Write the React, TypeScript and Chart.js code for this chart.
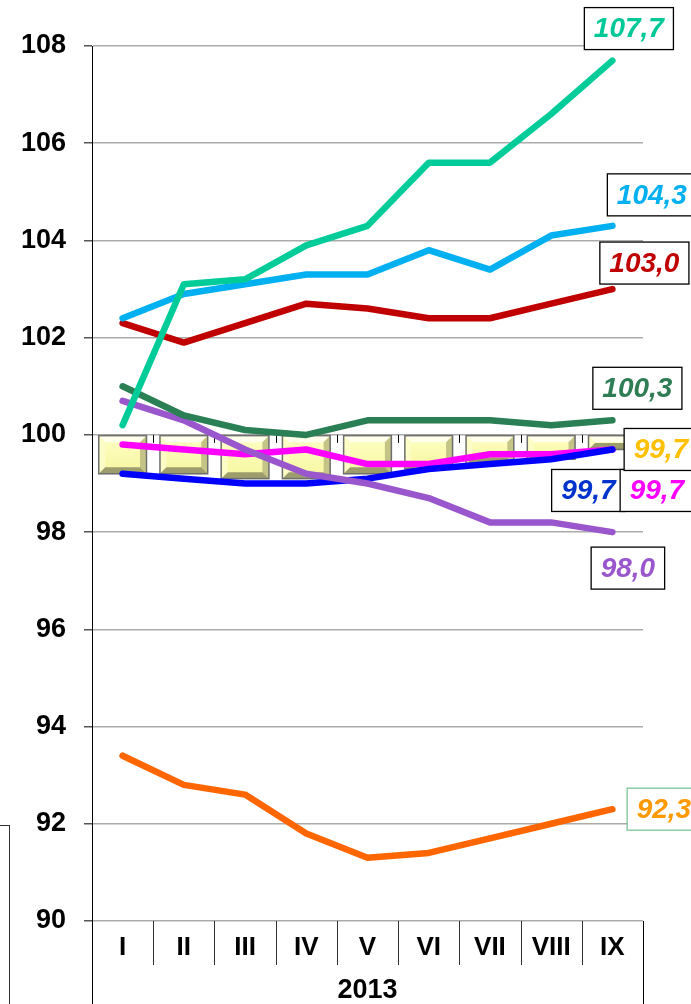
import React, { useEffect, useRef } from 'react';
import { Chart, registerables } from 'chart.js';
Chart.register(...registerables);

const months = ['I', 'II', 'III', 'IV', 'V', 'VI', 'VII', 'VIII', 'IX'];
const yearLabel = '2013';
const yMin = 90;
const yMax = 108;
const yStep = 2;

const tealSeries = [100.2, 103.1, 103.2, 103.9, 104.3, 105.6, 105.6, 106.6, 107.7];
const lightBlueSeries = [102.4, 102.9, 103.1, 103.3, 103.3, 103.8, 103.4, 104.1, 104.3];
const darkRedSeries = [102.3, 101.9, 102.3, 102.7, 102.6, 102.4, 102.4, 102.7, 103.0];
const darkGreenSeries = [101.0, 100.4, 100.1, 100.0, 100.3, 100.3, 100.3, 100.2, 100.3];
const purpleSeries = [100.7, 100.3, 99.7, 99.2, 99.0, 98.7, 98.2, 98.2, 98.0];
const magentaSeries = [99.8, 99.7, 99.6, 99.7, 99.4, 99.4, 99.6, 99.6, 99.7];
const blueSeries = [99.2, 99.1, 99.0, 99.0, 99.1, 99.3, 99.4, 99.5, 99.7];
const orangeSeries = [93.4, 92.8, 92.6, 91.8, 91.3, 91.4, 91.7, 92.0, 92.3];
const yellowBars = [99.2, 99.2, 99.1, 99.1, 99.2, 99.3, 99.4, 99.5, 99.7];
const barBase = 100;

const FONT = '"Liberation Sans", Arial, sans-serif';

const fmt = (v: number) => v.toFixed(1).replace('.', ',');

function lineDs(data: number[], color: string, label: any) {
  return {
    type: 'line' as const,
    data,
    borderColor: color,
    backgroundColor: color,
    borderWidth: 6.5,
    pointRadius: 0,
    tension: 0,
    borderCapStyle: 'round',
    borderJoinStyle: 'round',
    order: 1,
    endLabel: label,
  };
}

const decorPlugin = {
  id: 'decor',
  beforeDatasetsDraw(chart: any) {
    const { ctx, scales } = chart;
    const x = scales.x;
    const y = scales.y;
    const yb = y.getPixelForValue(barBase);
    ctx.save();
    ctx.strokeStyle = '#000';
    ctx.lineWidth = 1;
    for (let i = 1; i < months.length; i++) {
      const bx = Math.round((x.getPixelForValue(i - 1) + x.getPixelForValue(i)) / 2) + 0.5;
      ctx.beginPath();
      ctx.moveTo(bx, yb);
      ctx.lineTo(bx, yb + 8);
      ctx.stroke();
    }
    ctx.restore();
  },
  afterDatasetDraw(chart: any, args: any) {
    if (args.meta.type !== 'bar') return;
    const { ctx } = chart;
    ctx.save();
    args.meta.data.forEach((el: any) => {
      const p = el.getProps(['x', 'y', 'base', 'width'], true);
      const l = p.x - p.width / 2;
      const r = p.x + p.width / 2;
      const t = Math.min(p.y, p.base);
      const b = Math.max(p.y, p.base);
      const s = 6.5;
      const g = ctx.createLinearGradient(0, t, 0, b);
      g.addColorStop(0, '#FFFFC4');
      g.addColorStop(1, '#F6F6A0');
      ctx.fillStyle = g;
      ctx.fillRect(l, t, r - l, b - t);
      const poly = (pts: number[][], c: string) => {
        ctx.beginPath();
        ctx.moveTo(pts[0][0], pts[0][1]);
        for (let k = 1; k < pts.length; k++) ctx.lineTo(pts[k][0], pts[k][1]);
        ctx.closePath();
        ctx.fillStyle = c;
        ctx.fill();
      };
      poly([[l, t], [r, t], [r - s, t + s], [l + s, t + s]], '#FFFFEC');
      poly([[l, t], [l + s, t + s], [l + s, b - s], [l, b]], '#FCFCC6');
      poly([[r, t], [r, b], [r - s, b - s], [r - s, t + s]], '#C4C486');
      poly([[l, b], [r, b], [r - s, b - s], [l + s, b - s]], '#9C9C6C');
      ctx.strokeStyle = '#6E6E6E';
      ctx.lineWidth = 1.5;
      ctx.strokeRect(l, t, r - l, b - t);
    });
    ctx.restore();
  },
  afterDatasetsDraw(chart: any) {
    const { ctx } = chart;
    ctx.save();
    ctx.font = 'italic bold 28px ' + FONT;
    ctx.textAlign = 'center';
    ctx.textBaseline = 'middle';
    chart.data.datasets.forEach((ds: any, i: number) => {
      const lab = ds.endLabel;
      if (!lab) return;
      const meta = chart.getDatasetMeta(i);
      const el = meta.data[meta.data.length - 1];
      const p = el.getProps(['x', 'y'], true);
      const text = fmt(ds.data[ds.data.length - 1]);
      const w = ctx.measureText(text).width + 19;
      const h = 42;
      const cx = p.x + lab.dx;
      const cy = p.y + lab.dy;
      ctx.fillStyle = '#fff';
      ctx.fillRect(cx - w / 2, cy - h / 2, w, h);
      ctx.strokeStyle = lab.border;
      ctx.lineWidth = 1.3;
      ctx.strokeRect(cx - w / 2, cy - h / 2, w, h);
      ctx.fillStyle = lab.color;
      ctx.fillText(text, cx, cy + 1);
    });
    ctx.restore();
  },
  afterDraw(chart: any) {
    const { ctx, chartArea, scales } = chart;
    const x = scales.x;
    const H = chart.height;
    ctx.save();
    ctx.strokeStyle = '#000';
    ctx.lineWidth = 1;
    const bottom = chartArea.bottom;
    [chartArea.left, chartArea.right].forEach((px: number) => {
      const xx = Math.round(px) + 0.5;
      ctx.beginPath();
      ctx.moveTo(xx, bottom);
      ctx.lineTo(xx, H);
      ctx.stroke();
    });
    ctx.beginPath();
    ctx.moveTo(Math.round(chartArea.left) + 0.5, chartArea.top);
    ctx.lineTo(Math.round(chartArea.left) + 0.5, bottom);
    ctx.stroke();
    ctx.strokeStyle = '#333';
    for (let i = 1; i < months.length; i++) {
      const bx = Math.round((x.getPixelForValue(i - 1) + x.getPixelForValue(i)) / 2) + 0.5;
      ctx.beginPath();
      ctx.moveTo(bx, bottom);
      ctx.lineTo(bx, bottom + 44);
      ctx.stroke();
    }
    ctx.fillStyle = '#000';
    ctx.font = 'bold 27px ' + FONT;
    ctx.textAlign = 'center';
    ctx.textBaseline = 'middle';
    ctx.fillText(yearLabel, (chartArea.left + chartArea.right) / 2, 991);
    ctx.restore();
  },
};

export default function App() {
  const ref = useRef<HTMLCanvasElement>(null);
  useEffect(() => {
    const canvas = ref.current;
    if (!canvas) return;
    const chart = new Chart(canvas, {
      type: 'bar',
      data: {
        labels: months,
        datasets: [
          lineDs(tealSeries, '#00CC99', { color: '#00C896', border: '#000', dx: 16.5, dy: -32 }),
          lineDs(lightBlueSeries, '#00B0F0', { color: '#00B0F0', border: '#000', dx: 39.5, dy: -31 }),
          lineDs(darkRedSeries, '#C00000', { color: '#C00000', border: '#000', dx: 32, dy: -26 }),
          lineDs(darkGreenSeries, '#2A7F55', { color: '#2E7D55', border: '#000', dx: 25, dy: -32 }),
          lineDs(purpleSeries, '#9A57CD', { color: '#9A57CD', border: '#000', dx: 15.5, dy: 36 }),
          lineDs(blueSeries, '#0000FF', { color: '#0033CC', border: '#000', dx: -24, dy: 41 }),
          lineDs(magentaSeries, '#FF00FF', { color: '#FF00FF', border: '#000', dx: 44.5, dy: 41 }),
          lineDs(orangeSeries, '#FF6600', { color: '#FF9900', border: '#7CC49A', dx: 51.5, dy: 0 }),
          {
            type: 'bar' as const,
            data: yellowBars,
            base: barBase,
            backgroundColor: 'rgba(0,0,0,0)',
            borderWidth: 0,
            barPercentage: 0.78,
            categoryPercentage: 1,
            order: 10,
            endLabel: { color: '#FFC000', border: '#000', dx: 48.5, dy: 0 },
          } as any,
        ],
      } as any,
      options: {
        animation: false,
        responsive: false,
        maintainAspectRatio: false,
        devicePixelRatio: 1,
        layout: { padding: { top: 46, right: 48, left: 0, bottom: 0 } },
        plugins: { legend: { display: false }, tooltip: { enabled: false } },
        scales: {
          x: {
            offset: true,
            grid: { display: false, drawTicks: false },
            border: { display: false },
            ticks: { color: '#000', font: { family: FONT, size: 26, weight: 'bold' }, padding: 11, maxRotation: 0, autoSkip: false },
            afterFit: (s: any) => { s.height = 83; },
          },
          y: {
            min: yMin,
            max: yMax,
            ticks: { stepSize: yStep, color: '#000', font: { family: FONT, size: 27, weight: 'bold' }, padding: 18 },
            grid: { color: '#ABABAB', lineWidth: 1.5, drawTicks: true, tickLength: 8, tickColor: '#555' },
            border: { display: true, color: '#000', width: 1 },
            afterFit: (s: any) => { s.width = 92; },
          },
        },
      } as any,
      plugins: [decorPlugin],
    });
    return () => chart.destroy();
  }, []);
  return (
    <div style={{ position: 'absolute', left: 0, top: 0, width: 691, height: 1004, background: '#fff', overflow: 'hidden' }}>
      <canvas ref={ref} width={691} height={1004} style={{ display: 'block', width: 691, height: 1004 }} />
      <div style={{ position: 'absolute', left: 0, top: 825, width: 10, height: 179, borderTop: '1px solid #333', borderRight: '1px solid #333', boxSizing: 'border-box' }} />
    </div>
  );
}
